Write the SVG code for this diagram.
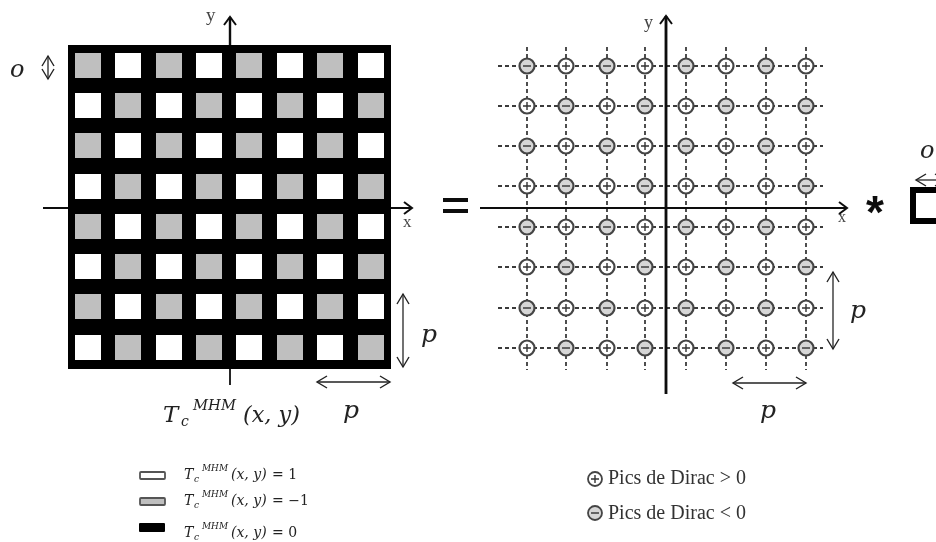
<svg xmlns="http://www.w3.org/2000/svg" width="936" height="542" viewBox="0 0 936 542">
<style>
.w{fill:#fff}.g{fill:#bfbfbf}
.ax{stroke:#111;fill:none}
.dash{stroke:#3a3a3a;stroke-width:1.8;stroke-dasharray:4 3;fill:none}
.dim{stroke:#222;stroke-width:1.3;fill:none;marker-start:url(#v);marker-end:url(#v)}
.m{font-family:"DejaVu Serif","Liberation Serif",serif;font-style:italic;fill:#222}
.n{font-family:"DejaVu Serif","Liberation Serif",serif;fill:#222}
.s{font-family:"Liberation Serif",serif;fill:#444}
.d{font-family:"Liberation Serif",serif;font-size:20px;fill:#333}
.c{stroke:#444;stroke-width:2.2}
.sg{stroke:#333;stroke-width:1.4;fill:none}
</style>
<defs>
<marker id="v" viewBox="-11 -7 13 14" markerWidth="13" markerHeight="14" refX="0" refY="0" orient="auto-start-reverse" markerUnits="userSpaceOnUse"><path d="M-10-6L0 0L-10 6" fill="none" stroke="#222" stroke-width="1.4"/></marker>
<marker id="va" viewBox="-10 -7 12 14" markerWidth="12" markerHeight="14" refX="0" refY="0" orient="auto" markerUnits="userSpaceOnUse"><path d="M-8-6L0 0L-8 6" fill="none" stroke="#111" stroke-width="2"/></marker>
<g id="pl"><circle r="7.5" class="c" fill="#fff"/><path class="sg" d="M-4 0H4M0-4V4"/></g>
<g id="mi"><circle r="7.5" class="c" fill="#d6d6d6"/><path class="sg" d="M-4 0H4"/></g>
<filter id="b" filterUnits="userSpaceOnUse" x="0" y="0" width="936" height="542"><feGaussianBlur stdDeviation="0.6"/></filter>
</defs>
<rect width="936" height="542" fill="#fff"/>
<g filter="url(#b)">
<g id="connectors">
<path class="ax" stroke-width="1.8" d="M43 208H68M391 208H412" marker-end="url(#va)"/>
<path class="ax" stroke-width="2.4" d="M230 45V17" marker-end="url(#va)"/>
<path class="ax" stroke-width="1.8" d="M230 369V385"/>
<path class="dim" d="M48 56V79"/>
<path class="dim" d="M403 294V367"/>
<path class="dim" d="M317 382H390"/>
<path class="dash" d="M498 66H823M498 106H823M498 146H823M498 186H823M498 227H823M498 267H823M498 308H823M498 348H823"/>
<path class="dash" d="M527 47V370M566 47V370M607 47V370M645 47V370M686 47V370M726 47V370M766 47V370M806 47V370"/>
<path class="ax" stroke-width="2.2" d="M480 208H847" marker-end="url(#va)"/>
<path class="ax" stroke-width="2.8" d="M666 394V16" marker-end="url(#va)"/>
<path class="dim" d="M833 272V349"/>
<path class="dim" d="M733 383H806"/>
<path class="dim" d="M916 180H945"/>
</g>
<g id="mask-grid">
<rect x="68" y="45" width="323" height="324" fill="#000"/>
<g id="row0"><rect class="g" x="75" y="53" width="26" height="25"/><rect class="w" x="115" y="53" width="26" height="25"/><rect class="g" x="156" y="53" width="26" height="25"/><rect class="w" x="196" y="53" width="26" height="25"/><rect class="g" x="236" y="53" width="26" height="25"/><rect class="w" x="277" y="53" width="26" height="25"/><rect class="g" x="317" y="53" width="26" height="25"/><rect class="w" x="358" y="53" width="26" height="25"/></g>
<g id="row1"><rect class="w" x="75" y="93" width="26" height="25"/><rect class="g" x="115" y="93" width="26" height="25"/><rect class="w" x="156" y="93" width="26" height="25"/><rect class="g" x="196" y="93" width="26" height="25"/><rect class="w" x="236" y="93" width="26" height="25"/><rect class="g" x="277" y="93" width="26" height="25"/><rect class="w" x="317" y="93" width="26" height="25"/><rect class="g" x="358" y="93" width="26" height="25"/></g>
<g id="row2"><rect class="g" x="75" y="133" width="26" height="25"/><rect class="w" x="115" y="133" width="26" height="25"/><rect class="g" x="156" y="133" width="26" height="25"/><rect class="w" x="196" y="133" width="26" height="25"/><rect class="g" x="236" y="133" width="26" height="25"/><rect class="w" x="277" y="133" width="26" height="25"/><rect class="g" x="317" y="133" width="26" height="25"/><rect class="w" x="358" y="133" width="26" height="25"/></g>
<g id="row3"><rect class="w" x="75" y="174" width="26" height="25"/><rect class="g" x="115" y="174" width="26" height="25"/><rect class="w" x="156" y="174" width="26" height="25"/><rect class="g" x="196" y="174" width="26" height="25"/><rect class="w" x="236" y="174" width="26" height="25"/><rect class="g" x="277" y="174" width="26" height="25"/><rect class="w" x="317" y="174" width="26" height="25"/><rect class="g" x="358" y="174" width="26" height="25"/></g>
<g id="row4"><rect class="g" x="75" y="214" width="26" height="25"/><rect class="w" x="115" y="214" width="26" height="25"/><rect class="g" x="156" y="214" width="26" height="25"/><rect class="w" x="196" y="214" width="26" height="25"/><rect class="g" x="236" y="214" width="26" height="25"/><rect class="w" x="277" y="214" width="26" height="25"/><rect class="g" x="317" y="214" width="26" height="25"/><rect class="w" x="358" y="214" width="26" height="25"/></g>
<g id="row5"><rect class="w" x="75" y="254" width="26" height="25"/><rect class="g" x="115" y="254" width="26" height="25"/><rect class="w" x="156" y="254" width="26" height="25"/><rect class="g" x="196" y="254" width="26" height="25"/><rect class="w" x="236" y="254" width="26" height="25"/><rect class="g" x="277" y="254" width="26" height="25"/><rect class="w" x="317" y="254" width="26" height="25"/><rect class="g" x="358" y="254" width="26" height="25"/></g>
<g id="row6"><rect class="g" x="75" y="294" width="26" height="25"/><rect class="w" x="115" y="294" width="26" height="25"/><rect class="g" x="156" y="294" width="26" height="25"/><rect class="w" x="196" y="294" width="26" height="25"/><rect class="g" x="236" y="294" width="26" height="25"/><rect class="w" x="277" y="294" width="26" height="25"/><rect class="g" x="317" y="294" width="26" height="25"/><rect class="w" x="358" y="294" width="26" height="25"/></g>
<g id="row7"><rect class="w" x="75" y="335" width="26" height="25"/><rect class="g" x="115" y="335" width="26" height="25"/><rect class="w" x="156" y="335" width="26" height="25"/><rect class="g" x="196" y="335" width="26" height="25"/><rect class="w" x="236" y="335" width="26" height="25"/><rect class="g" x="277" y="335" width="26" height="25"/><rect class="w" x="317" y="335" width="26" height="25"/><rect class="g" x="358" y="335" width="26" height="25"/></g>
</g>
<g id="dirac-peaks">
<use href="#mi" x="527" y="66"/><use href="#pl" x="566" y="66"/><use href="#mi" x="607" y="66"/><use href="#pl" x="645" y="66"/><use href="#mi" x="686" y="66"/><use href="#pl" x="726" y="66"/><use href="#mi" x="766" y="66"/><use href="#pl" x="806" y="66"/>
<use href="#pl" x="527" y="106"/><use href="#mi" x="566" y="106"/><use href="#pl" x="607" y="106"/><use href="#mi" x="645" y="106"/><use href="#pl" x="686" y="106"/><use href="#mi" x="726" y="106"/><use href="#pl" x="766" y="106"/><use href="#mi" x="806" y="106"/>
<use href="#mi" x="527" y="146"/><use href="#pl" x="566" y="146"/><use href="#mi" x="607" y="146"/><use href="#pl" x="645" y="146"/><use href="#mi" x="686" y="146"/><use href="#pl" x="726" y="146"/><use href="#mi" x="766" y="146"/><use href="#pl" x="806" y="146"/>
<use href="#pl" x="527" y="186"/><use href="#mi" x="566" y="186"/><use href="#pl" x="607" y="186"/><use href="#mi" x="645" y="186"/><use href="#pl" x="686" y="186"/><use href="#mi" x="726" y="186"/><use href="#pl" x="766" y="186"/><use href="#mi" x="806" y="186"/>
<use href="#mi" x="527" y="227"/><use href="#pl" x="566" y="227"/><use href="#mi" x="607" y="227"/><use href="#pl" x="645" y="227"/><use href="#mi" x="686" y="227"/><use href="#pl" x="726" y="227"/><use href="#mi" x="766" y="227"/><use href="#pl" x="806" y="227"/>
<use href="#pl" x="527" y="267"/><use href="#mi" x="566" y="267"/><use href="#pl" x="607" y="267"/><use href="#mi" x="645" y="267"/><use href="#pl" x="686" y="267"/><use href="#mi" x="726" y="267"/><use href="#pl" x="766" y="267"/><use href="#mi" x="806" y="267"/>
<use href="#mi" x="527" y="308"/><use href="#pl" x="566" y="308"/><use href="#mi" x="607" y="308"/><use href="#pl" x="645" y="308"/><use href="#mi" x="686" y="308"/><use href="#pl" x="726" y="308"/><use href="#mi" x="766" y="308"/><use href="#pl" x="806" y="308"/>
<use href="#pl" x="527" y="348"/><use href="#mi" x="566" y="348"/><use href="#pl" x="607" y="348"/><use href="#mi" x="645" y="348"/><use href="#pl" x="686" y="348"/><use href="#mi" x="726" y="348"/><use href="#pl" x="766" y="348"/><use href="#mi" x="806" y="348"/>
</g>
<g id="operators">
<rect x="443" y="198" width="25" height="4" fill="#111"/><rect x="443" y="209" width="25" height="4" fill="#111"/>
<text x="875" y="228" font-family="Liberation Sans,sans-serif" font-size="46" font-weight="700" text-anchor="middle" fill="#111">*</text>
<rect id="unit-aperture" x="913" y="190" width="40" height="31" fill="#fff" stroke="#000" stroke-width="6"/>
</g>
<g id="labels">
<text class="s" x="206" y="21" font-size="19">y</text>
<text class="s" x="403" y="227" font-size="17">x</text>
<text class="s" x="644" y="28" font-size="18">y</text>
<text class="s" x="838" y="222" font-size="16">x</text>
<text class="m" x="10" y="77" font-size="24">o</text>
<text class="m" x="920" y="158" font-size="24">o</text>
<text class="m" x="421" y="342" font-size="25">p</text>
<text class="m" x="343" y="418" font-size="25">p</text>
<text class="m" x="850" y="318" font-size="25">p</text>
<text class="m" x="760" y="418" font-size="25">p</text>
<text class="m" font-size="23"><tspan x="163" y="422">T</tspan><tspan x="181" y="426" font-size="14">c</tspan><tspan x="193" y="410" font-size="14" textLength="43" lengthAdjust="spacingAndGlyphs">MHM</tspan><tspan x="243" y="422" textLength="57" lengthAdjust="spacingAndGlyphs">(x, y)</tspan></text>
</g>
<g id="legend-mask">
<rect x="140" y="472" width="25" height="7" rx="1" fill="#fff" stroke="#555" stroke-width="1.8"/>
<rect x="140" y="498" width="25" height="7" rx="1" fill="#bfbfbf" stroke="#555" stroke-width="1.8"/>
<rect x="139" y="523" width="26" height="9" rx="1" fill="#000"/>
<text class="m" font-size="14"><tspan x="184" y="479">T</tspan><tspan x="194" y="482" font-size="9">c</tspan><tspan x="202" y="471" font-size="9" textLength="26" lengthAdjust="spacingAndGlyphs">MHM</tspan><tspan x="231" y="479">(x, y)</tspan><tspan class="n" x="272" y="479" font-style="normal">= 1</tspan></text>
<text class="m" font-size="14"><tspan x="184" y="505">T</tspan><tspan x="194" y="508" font-size="9">c</tspan><tspan x="202" y="497" font-size="9" textLength="26" lengthAdjust="spacingAndGlyphs">MHM</tspan><tspan x="231" y="505">(x, y)</tspan><tspan class="n" x="272" y="505" font-style="normal">= −1</tspan></text>
<text class="m" font-size="14"><tspan x="184" y="537">T</tspan><tspan x="194" y="540" font-size="9">c</tspan><tspan x="202" y="529" font-size="9" textLength="26" lengthAdjust="spacingAndGlyphs">MHM</tspan><tspan x="231" y="537">(x, y)</tspan><tspan class="n" x="272" y="537" font-style="normal">= 0</tspan></text>
</g>
<g id="legend-peaks">
<circle cx="595" cy="479" r="7" fill="#fff" stroke="#444" stroke-width="1.8"/><path class="sg" d="M591 479H599M595 475V483"/>
<text class="d" x="608" y="484">Pics de Dirac &gt; 0</text>
<circle cx="595" cy="513" r="7" fill="#d6d6d6" stroke="#444" stroke-width="1.8"/><path class="sg" d="M591 513H599"/>
<text class="d" x="608" y="519">Pics de Dirac &lt; 0</text>
</g>
</g>
</svg>
